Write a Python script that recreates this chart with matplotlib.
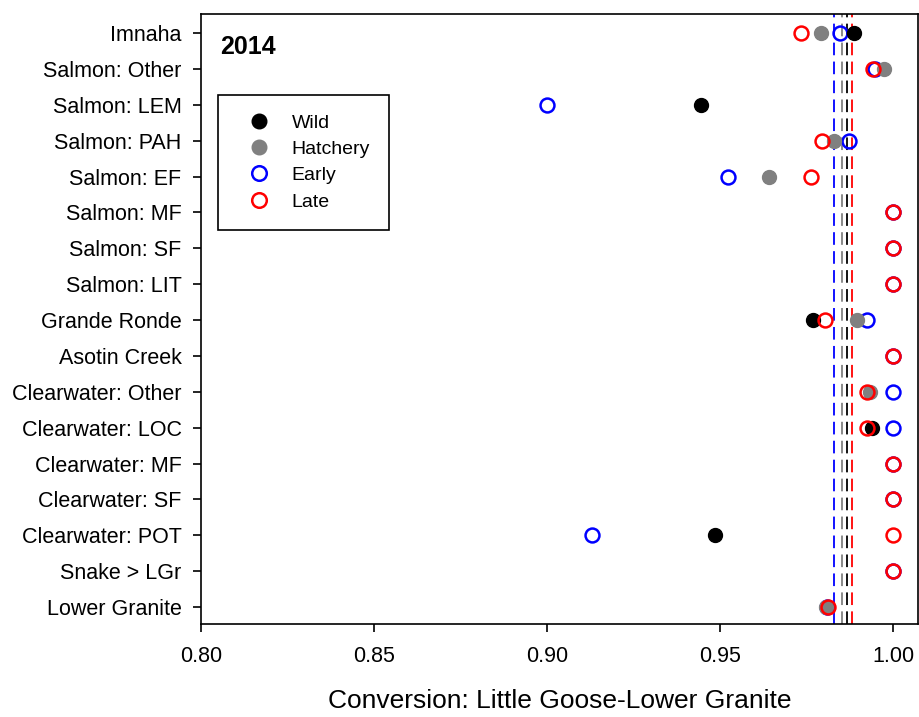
import numpy as np
import matplotlib
matplotlib.use("Agg")
import matplotlib.pyplot as plt
from matplotlib.lines import Line2D

plt.rcParams['font.family'] = ['Liberation Sans', 'DejaVu Sans']

nan = np.nan
categories = ["Imnaha", "Salmon: Other", "Salmon: LEM", "Salmon: PAH", "Salmon: EF",
              "Salmon: MF", "Salmon: SF", "Salmon: LIT", "Grande Ronde", "Asotin Creek",
              "Clearwater: Other", "Clearwater: LOC", "Clearwater: MF", "Clearwater: SF",
              "Clearwater: POT", "Snake > LGr", "Lower Granite"]
wild =     [0.9886, nan, 0.9444, nan, nan, nan, nan, nan, 0.9769, nan,
            nan, 0.9939, nan, nan, 0.9485, nan, nan]
hatchery = [0.9791, 0.9973, nan, 0.9829, 0.9642, nan, nan, nan, 0.9896, nan,
            0.9933, nan, nan, nan, nan, nan, 0.9805]
early =    [0.9846, 0.9947, 0.8999, 0.9873, 0.9521, 1.0, 1.0, 1.0, 0.9925, 1.0,
            1.0, 1.0, 1.0, 1.0, 0.9129, 1.0, 0.9807]
late =     [0.9733, 0.9942, nan, 0.9795, 0.9761, 1.0, 1.0, 1.0, 0.9803, 1.0,
            0.9925, 0.9925, 1.0, 1.0, 1.0, 1.0, 0.9811]
mean_early = 0.9829
mean_hatchery = 0.9852
mean_wild = 0.9866
mean_late = 0.9880
year_label = "2014"
xticks = [0.80, 0.85, 0.90, 0.95, 1.00]

fig = plt.figure(figsize=(9.19, 7.17), dpi=100)
ax = fig.add_axes([201/919, 1-624/717, 717/919, 610/717])

y = np.arange(len(categories))
ms = 10
ax.plot(early, y, 'o', ls='none', mfc='none', mec='#0000ff', mew=1.8, ms=ms, zorder=3)
ax.plot(wild, y, 'o', ls='none', mfc='black', mec='black', ms=ms, zorder=4)
ax.plot(hatchery, y, 'o', ls='none', mfc='#808080', mec='#808080', ms=ms, zorder=5)
ax.plot(late, y, 'o', ls='none', mfc='none', mec='#ff0000', mew=1.8, ms=ms, zorder=6)

for v, c in [(mean_early, '#0000ff'), (mean_hatchery, '#808080'),
             (mean_wild, 'black'), (mean_late, '#ff0000')]:
    ax.axvline(v, color=c, ls=(0, (7, 3.5)), lw=1.3, zorder=2)

ax.set_ylim(16.47, -0.53)
ax.set_xlim(0.80, 1.0071)
ax.set_yticks(y)
ax.set_yticklabels(categories, fontsize=15.5)
ax.set_xticks(xticks)
ax.set_xticklabels([f"{t:.2f}" for t in xticks], fontsize=15.5)
ax.tick_params(axis='both', direction='out', length=6, width=1.2, color='black')
ax.tick_params(axis='y', pad=8)
ax.tick_params(axis='x', pad=10)
for s in ax.spines.values():
    s.set_linewidth(1.2)
ax.set_xlabel("Conversion: Little Goose-Lower Granite", fontsize=19, labelpad=16)

ax.text(0.0265, 0.965, year_label, transform=ax.transAxes, fontsize=18,
        fontweight='bold', va='top', ha='left')

handles = [
    Line2D([], [], marker='o', ls='none', mfc='black', mec='black', ms=10.5),
    Line2D([], [], marker='o', ls='none', mfc='#808080', mec='#808080', ms=10.5),
    Line2D([], [], marker='o', ls='none', mfc='none', mec='#0000ff', mew=1.8, ms=10.5),
    Line2D([], [], marker='o', ls='none', mfc='none', mec='#ff0000', mew=1.8, ms=10.5),
]
leg = ax.legend(handles, ["Wild", "Hatchery", "Early", "Late"], loc='upper left',
                bbox_to_anchor=(0.0233, 0.868), fontsize=14, frameon=True,
                fancybox=False, framealpha=1, edgecolor='black', borderpad=1.0,
                labelspacing=0.45, handlelength=2.2, handletextpad=0.6,
                borderaxespad=0)
leg.get_frame().set_linewidth(1.2)

fig.savefig("out.png", dpi=100)
